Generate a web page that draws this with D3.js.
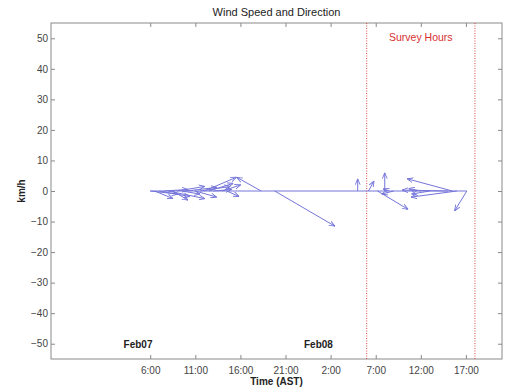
<!DOCTYPE html>
<html>
<head>
<meta charset="utf-8">
<script src="https://cdn.jsdelivr.net/npm/d3@7"></script>
<style>
	body { margin: 0; background: #fff; }
	svg { display: block; font-family: "Liberation Sans", Arial, sans-serif; }
</style>
</head>
<body>
<div id="chart"></div>
<script>
	// time of each stick, hours after Feb07 00:00
	let hours = [6.0, 6.5, 7.0, 7.5, 8.0, 8.5, 9.0, 9.5, 10.0, 11.0, 11.5, 12.0, 12.5, 13.0, 14.0, 14.5, 18.3,
		19.8, 29.0, 30.2, 31.2, 32.0, 32.5, 33.0, 36.0, 37.0, 39.0, 39.5, 40.0, 41.1];
	// east (u) and north (v) components, km/h
	let uWind = [9, 6, 10, 8, 12, 5, 9, 6, 10, 7, 10, 10.5, 8, 6, 6, 4, -8,
		19.7, 0, 1.8, 10, 0, -2, -4, -4, -6, -15, -14.8, -15, -4];
	let vWind = [-1, -2.5, -1.8, 0.5, -2.5, -3, 1.5, -1, 1.2, -2, 1.5, 4.5, 2.5, 0.5, 2, -1.8, 4.5,
		-11.5, 4, 3.3, -6, 6, 0.7, -1, 0.8, -1, 0.3, 4, -2, -6.5];

	let yTicks = [-50, -40, -30, -20, -10, 0, 10, 20, 30, 40, 50];
	let xTickHours = [6, 11, 16, 21, 26, 31, 36, 41];
	let xTickLabels = ["6:00", "11:00", "16:00", "21:00", "2:00", "7:00", "12:00", "17:00"];
	let dayLabels = ["Feb07", "Feb08"];
	let dayLabelHours = [4.65, 24.65];
	let surveyHours = [30, 42];

	let width = 512;
	let height = 390;
	let margin = { top: 23, right: 10, bottom: 31, left: 51 };
	let plotW = width - margin.left - margin.right;
	let plotH = height - margin.top - margin.bottom;
	let stickColor = "#7474da";

	let t0 = new Date(2000, 1, 7, 0, 0);
	let toDate = function(h) { return new Date(t0.getTime() + h * 3600e3); };

	let xScale = d3.scaleTime()
		.domain([toDate(-5), toDate(45)])
		.range([0, plotW]);
	let yScale = d3.scaleLinear().domain([-55, 55]).range([plotH, 0]);
	// km/h -> pixels, same for both components
	let k = yScale(0) - yScale(1);

	let svg = d3.select("#chart").append("svg")
		.attr("width", width)
		.attr("height", height);

	svg.append("defs").append("marker")
		.attr("id", "head")
		.attr("viewBox", "0 0 10 10")
		.attr("refX", 10)
		.attr("refY", 5)
		.attr("markerWidth", 6)
		.attr("markerHeight", 6)
		.attr("markerUnits", "userSpaceOnUse")
		.attr("orient", "auto")
		.append("path")
		.attr("d", "M0,1 L10,5 L0,9")
		.attr("fill", "none")
		.attr("stroke", stickColor)
		.attr("stroke-width", 1.5);

	let g = svg.append("g").attr("transform", `translate(${margin.left},${margin.top})`);

	// axes box
	g.append("rect")
		.attr("width", plotW)
		.attr("height", plotH)
		.attr("fill", "none")
		.attr("stroke", "#8a8a8a");

	let xTickDates = xTickHours.map(toDate);
	let xAxis = d3.axisBottom(xScale).tickValues(xTickDates).tickSize(-4).tickPadding(8)
		.tickFormat(function(d, i) { return xTickLabels[i]; });
	let xAxisTop = d3.axisTop(xScale).tickValues(xTickDates).tickSize(-4).tickFormat("");
	let yAxis = d3.axisLeft(yScale).tickValues(yTicks).tickSize(-4).tickPadding(3);
	let yAxisRight = d3.axisRight(yScale).tickValues(yTicks).tickSize(-4).tickFormat("");

	let styleAxis = function(sel) {
		sel.select(".domain").remove();
		sel.selectAll(".tick line").attr("stroke", "#8a8a8a");
		sel.selectAll(".tick text").attr("fill", "#444").style("font-size", "10px").style("font-family", "inherit");
	};

	g.append("g").attr("transform", `translate(0,${plotH})`).call(xAxis).call(styleAxis);
	g.append("g").call(xAxisTop).call(styleAxis);
	g.append("g").call(yAxis).call(styleAxis);
	g.append("g").attr("transform", `translate(${plotW},0)`).call(yAxisRight).call(styleAxis);

	// survey window
	g.selectAll(".survey")
		.data(surveyHours)
		.enter()
		.append("line")
		.classed("survey", true)
		.attr("x1", function(d) { return xScale(toDate(d)); })
		.attr("x2", function(d) { return xScale(toDate(d)); })
		.attr("y1", 0)
		.attr("y2", plotH)
		.attr("stroke", "#d84848")
		.attr("stroke-width", 1)
		.attr("stroke-dasharray", "1,1.5");

	g.append("text")
		.attr("x", (xScale(toDate(surveyHours[0])) + xScale(toDate(surveyHours[1]))) / 2)
		.attr("y", yScale(50) + 3)
		.attr("text-anchor", "middle")
		.attr("fill", "#d83030")
		.style("font-size", "10.5px")
		.text("Survey Hours");

	// baseline of the stick plot
	g.append("line")
		.attr("x1", xScale(toDate(d3.min(hours))))
		.attr("x2", xScale(toDate(d3.max(hours))))
		.attr("y1", yScale(0))
		.attr("y2", yScale(0))
		.attr("stroke", stickColor)
		.attr("stroke-width", 1);

	let sticks = hours.map(function(h, i) { return { h: h, u: uWind[i], v: vWind[i] }; });

	g.selectAll(".stick")
		.data(sticks)
		.enter()
		.append("line")
		.classed("stick", true)
		.attr("x1", function(d) { return xScale(toDate(d.h)); })
		.attr("y1", yScale(0))
		.attr("x2", function(d) { return xScale(toDate(d.h)) + d.u * k; })
		.attr("y2", function(d) { return yScale(d.v); })
		.attr("stroke", stickColor)
		.attr("stroke-width", 1)
		.attr("marker-end", "url(#head)");

	// day labels
	g.selectAll(".day")
		.data(dayLabels)
		.enter()
		.append("text")
		.classed("day", true)
		.attr("x", function(d, i) { return xScale(toDate(dayLabelHours[i])); })
		.attr("y", yScale(-50) + 4)
		.attr("text-anchor", "middle")
		.attr("fill", "#222")
		.style("font-size", "10px")
		.style("font-weight", "bold")
		.text(function(d) { return d; });

	// titles
	svg.append("text")
		.attr("x", margin.left + plotW / 2)
		.attr("y", 16)
		.attr("text-anchor", "middle")
		.attr("fill", "#222")
		.style("font-size", "11px")
		.text("Wind Speed and Direction");

	svg.append("text")
		.attr("x", margin.left + plotW / 2)
		.attr("y", 385)
		.attr("text-anchor", "middle")
		.attr("fill", "#222")
		.style("font-size", "10px")
		.style("font-weight", "bold")
		.text("Time (AST)");

	svg.append("text")
		.attr("transform", `translate(25,${margin.top + yScale(0)}) rotate(-90)`)
		.attr("text-anchor", "middle")
		.attr("fill", "#222")
		.style("font-size", "10px")
		.style("font-weight", "bold")
		.text("km/h");
</script>
</body>
</html>
